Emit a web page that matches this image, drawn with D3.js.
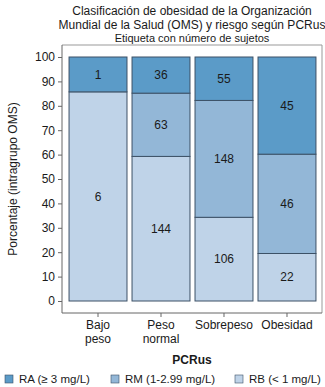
<!DOCTYPE html>
<html lang="es">

<head>
  <meta charset="UTF-8">
  <title>Obesidad OMS y PCRus</title>
  <script src="https://cdn.jsdelivr.net/npm/d3@7"></script>
  <style>
    body { margin: 0; background: #fff; }
    text { font-family: "Liberation Sans", Arial, sans-serif; }
  </style>
</head>

<body>
  <svg width="325" height="387"></svg>
</body>

<script>
  // datos: número de sujetos por grupo OMS y riesgo PCRus
  const categories = ["Bajo peso", "Peso normal", "Sobrepeso", "Obesidad"];
  const catLines = [["Bajo", "peso"], ["Peso", "normal"], ["Sobrepeso"], ["Obesidad"]];
  const seriesNames = ["RB", "RM", "RA"]; // de abajo hacia arriba
  const seriesLabels = { RA: "RA (≥ 3 mg/L)", RM: "RM (1-2.99 mg/L)", RB: "RB (< 1 mg/L)" };
  const RA = [1, 36, 55, 45];
  const RM = [0, 63, 148, 46];
  const RB = [6, 144, 106, 22];
  const yTicks = [0, 10, 20, 30, 40, 50, 60, 70, 80, 90, 100];

  const colors = { RA: "#5b9bc8", RM: "#93b7d7", RB: "#bfd3e8" };
  const edge = "#3d5166";

  const svg = d3.select("svg");
  const frame = { x0: 62, x1: 322, y0: 45, y1: 313 };

  // tabla apilada en porcentaje
  const table = categories.map((c, i) => {
    const total = RA[i] + RM[i] + RB[i];
    return { cat: c, RA: RA[i], RM: RM[i], RB: RB[i],
      pRA: 100 * RA[i] / total, pRM: 100 * RM[i] / total, pRB: 100 * RB[i] / total };
  });
  const stack = d3.stack().keys(seriesNames.map(k => "p" + k))(table);

  const x = d3.scaleBand().domain(categories).range([frame.x0 + 2, frame.x1 - 1]).paddingInner(0.08).paddingOuter(0.08);
  const y = d3.scaleLinear().domain([0, 100]).range([301, 57]);

  // marco
  svg.append("path")
    .attr("d", `M${frame.x0},${frame.y0}H${frame.x1}V${frame.y1}`)
    .attr("fill", "none").attr("stroke", "#999").attr("stroke-width", 1);

  // barras
  const layers = svg.append("g").selectAll("g")
    .data(stack).enter().append("g")
    .attr("fill", d => colors[d.key.slice(1)]);

  layers.selectAll("rect")
    .data(d => d.filter(s => s[1] - s[0] > 0))
    .enter().append("rect")
    .attr("x", d => x(d.data.cat))
    .attr("width", x.bandwidth())
    .attr("y", d => y(d[1]))
    .attr("height", d => y(d[0]) - y(d[1]))
    .attr("stroke", edge).attr("stroke-width", 1);

  layers.selectAll("text")
    .data(d => d.filter(s => s[1] - s[0] > 0).map(s => ({ s, key: d.key.slice(1) })))
    .enter().append("text")
    .attr("x", d => x(d.s.data.cat) + x.bandwidth() / 2)
    .attr("y", d => (y(d.s[0]) + y(d.s[1])) / 2)
    .attr("dy", "0.35em")
    .attr("text-anchor", "middle")
    .attr("font-size", "12px")
    .attr("fill", "#1a1a1a")
    .text(d => d.s.data[d.key]);

  // eje y
  const yAxis = svg.append("g")
    .attr("transform", `translate(${frame.x0},0)`)
    .call(d3.axisLeft(y).tickValues(yTicks).tickSize(4).tickPadding(3));
  yAxis.select(".domain").attr("d", `M0,${frame.y1}V${frame.y0}`).attr("stroke", "#666");
  yAxis.selectAll(".tick line").attr("stroke", "#666");
  yAxis.selectAll(".tick text").attr("font-size", "12px").attr("fill", "#1a1a1a")
    .attr("font-family", "'Liberation Sans', Arial, sans-serif");

  // eje x
  const xAxis = svg.append("g")
    .attr("transform", `translate(0,${frame.y1})`)
    .call(d3.axisBottom(x).tickSize(4).tickFormat(""));
  xAxis.select(".domain").attr("d", `M${frame.x0},0H${frame.x1}`).attr("stroke", "#666");
  xAxis.selectAll(".tick line").attr("stroke", "#666");

  svg.append("g").selectAll("text")
    .data(categories).enter().append("text")
    .attr("x", d => x(d) + x.bandwidth() / 2)
    .attr("y", 329)
    .attr("text-anchor", "middle")
    .attr("font-size", "12px")
    .attr("fill", "#1a1a1a")
    .selectAll("tspan")
    .data((d, i) => catLines[i]).enter().append("tspan")
    .attr("x", function () { return this.parentNode.getAttribute("x"); })
    .attr("dy", (d, i) => i === 0 ? 0 : 14)
    .text(d => d);

  // títulos
  const cx = (frame.x0 + frame.x1) / 2;
  svg.append("text").attr("x", cx).attr("y", 15).attr("text-anchor", "middle")
    .attr("font-size", "12px").attr("fill", "#1a1a1a")
    .text("Clasificación de obesidad de la Organización");
  svg.append("text").attr("x", cx).attr("y", 29).attr("text-anchor", "middle")
    .attr("font-size", "12px").attr("fill", "#1a1a1a")
    .text("Mundial de la Salud (OMS) y riesgo según PCRus");
  svg.append("text").attr("x", cx).attr("y", 42).attr("text-anchor", "middle")
    .attr("font-size", "11px").attr("fill", "#1a1a1a")
    .text("Etiqueta con número de sujetos");

  svg.append("text")
    .attr("transform", `translate(17,${(y(0) + y(100)) / 2}) rotate(-90)`)
    .attr("text-anchor", "middle")
    .attr("font-size", "12px").attr("fill", "#1a1a1a")
    .text("Porcentaje (intragrupo OMS)");

  svg.append("text").attr("x", cx).attr("y", 364).attr("text-anchor", "middle")
    .attr("font-size", "12px").attr("font-weight", "bold").attr("fill", "#1a1a1a")
    .text("PCRus");

  // leyenda
  const legendX = [5, 111, 235];
  const legend = svg.append("g").selectAll("g")
    .data(["RA", "RM", "RB"]).enter().append("g")
    .attr("transform", (d, i) => `translate(${legendX[i]},375)`);
  legend.append("rect").attr("width", 8).attr("height", 8)
    .attr("fill", d => colors[d]).attr("stroke", edge).attr("stroke-width", 0.6);
  legend.append("text").attr("x", 14).attr("y", 8)
    .attr("font-size", "11.5px").attr("fill", "#1a1a1a")
    .text(d => seriesLabels[d]);
</script>

</html>
